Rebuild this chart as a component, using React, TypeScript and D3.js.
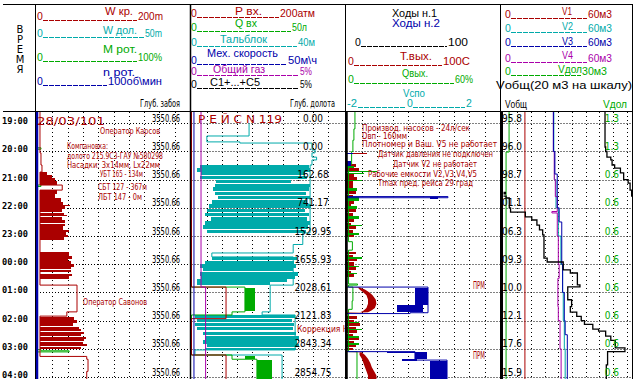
import React from "react";
import * as d3 from "d3";

type P = [number, number];
type B = [number, number, number, number];
type A3 = [number, number, number];

const RED = "#aa0000";
const TEAL = "#00aaaa";
const GREEN = "#00aa00";
const BLUE = "#0000aa";
const MAG = "#aa00aa";
const BLACK = "#000000";

// ---------- axis / labels ----------
const hourTicks = [0, 1, 2, 3, 4, 5, 6, 7, 8, 9];
const hourLabels = ["19:00", "20:00", "21:00", "22:00", "23:00", "00:00", "01:00", "02:00", "03:00", "04:00"];
const holeDepthLabels = ["3550.66", "3550.66", "3550.66", "3550.66", "3550.66", "3550.66", "3550.66", "3550.66", "3550.66", "3550.66"];
const bitDepthLabels = ["0.00", "0.00", "162.68", "741.17", "1529.95", "1655.93", "2028.61", "2121.83", "2843.34", "2854.75"];
const vTotalLabels = ["95.8", "96.0", "98.7", "101.1", "106.3", "109.3", "110.0", "112.1", "117.6", "115.9"];
const vDolLabels = ["1.3", "1.3", "0.6", "0.6", "0.6", "0.6", "0.6", "0.6", "0.6", "0.6"];

// ---------- track 1 : W кр, M рот, n рот ----------
const wkrLine: P[] = [[-0.4, 3.9], [1.05, 5.2], [1.48, 6.5], [1.73, 3.9], [2.19, 33], [2.37, 3.9], [5.52, 3.9], [5.74, 52.3], [6.69, 39], [6.84, 3.9], [8.27, 65], [8.37, 66.7], [8.8, 65], [9.1, 65]];
const wkrBands: B[] = [
  [1.73, 1.83, 3.9, 13], [1.83, 1.94, 3.9, 19.6], [1.94, 2.05, 3.9, 24], [2.05, 2.19, 3.9, 26],
  [2.37, 2.5, 3.9, 26], [2.5, 2.65, 3.9, 24], [2.65, 2.78, 3.9, 31], [2.78, 2.9, 3.9, 34],
  [2.9, 2.95, 3.9, 43], [2.95, 3.05, 3.9, 36], [3.05, 3.13, 3.9, 33], [3.17, 3.24, 3.9, 35],
  [3.24, 3.3, 3.9, 39], [3.34, 3.43, 3.9, 33], [3.43, 3.52, 3.9, 36], [3.56, 3.66, 3.9, 36],
  [3.66, 3.78, 3.9, 34], [3.78, 3.86, 3.9, 42], [3.86, 3.95, 3.9, 38], [3.95, 4.05, 3.9, 40], [4.05, 4.14, 3.9, 35],
  [4.57, 4.7, 3.9, 42], [4.7, 4.8, 3.9, 46], [4.8, 4.9, 3.9, 41], [4.9, 5.0, 3.9, 45], [5.0, 5.1, 3.9, 48],
  [5.1, 5.18, 3.9, 44], [5.22, 5.29, 3.9, 44], [5.33, 5.42, 3.9, 46], [5.42, 5.52, 3.9, 42],
  [6.86, 6.98, 3.9, 49], [6.98, 7.08, 3.9, 52], [7.08, 7.18, 3.9, 47], [7.22, 7.29, 3.9, 55], [7.29, 7.36, 3.9, 58],
  [7.4, 7.47, 3.9, 62], [7.47, 7.54, 3.9, 57], [7.58, 7.65, 3.9, 64], [7.65, 7.72, 3.9, 61],
  [7.75, 7.82, 3.9, 60], [7.82, 7.9, 3.9, 66], [7.92, 8.02, 3.9, 58],
];
const mrotLine: P[] = [[-0.4, 0], [0.87, 2.6], [0.92, 0], [2.19, 2.6], [2.24, 0], [8.03, 2.6], [8.07, 21], [8.11, 0], [9.1, 0]];
const nrotLine: P[] = [[-0.4, 0], [9.1, 0]];

// ---------- track 2 : Тальблок, Q вх, P вх, мех. скорость, газ ----------
const talLine: P[] = [[0, 15], [0.45, 4.0], [0.66, 12.6], [0.7, 31.4], [0.95, 32.2], [1.05, 31.4], [1.2, 32.6], [1.3, 31.4], [1.48, 30.9], [3.89, 29], [4.3, 26.5], [4.6, 5.3], [4.74, 26.5], [5.74, 20.5], [6.69, 18.4], [6.8, 27], [8.04, 0.9], [8.22, 23.6], [9.1, 23.6]];
const talBands: B[] = [
  [1.48, 1.6, 2.2, 30.5], [1.6, 1.72, 1.4, 31], [1.72, 1.85, 2.5, 29.5], [1.88, 1.98, 2.2, 30.2],
  [2.02, 2.12, 6.5, 26], [2.14, 2.25, 6.1, 31], [2.27, 2.4, 5.5, 30.5], [2.42, 2.55, 6.1, 29.8], [2.57, 2.7, 7, 30.9],
  [2.72, 2.85, 5.3, 30], [2.87, 3.0, 4.5, 31.2], [3.03, 3.15, 4.0, 29.5], [3.17, 3.3, 3.5, 30.5], [3.33, 3.45, 5, 30.2],
  [3.47, 3.6, 3.5, 31], [3.62, 3.75, 3.0, 30.4], [3.77, 3.89, 4.0, 29.8],
  [4.74, 4.85, 5.3, 27.5], [4.87, 4.98, 3.5, 26.8], [5.0, 5.12, 2.2, 27.3], [5.14, 5.25, 3.0, 26.5],
  [5.28, 5.4, 2.2, 27.8], [5.42, 5.52, 2.5, 27], [5.54, 5.62, 1.4, 25], [5.64, 5.74, 1.4, 20.5],
  [6.8, 6.92, 0.9, 27], [6.94, 7.05, 1.5, 26.3], [7.07, 7.18, 0.9, 26.8], [7.22, 7.35, 1.4, 26.5],
  [7.39, 7.52, 3, 27.3], [7.56, 7.68, 3.5, 28], [7.7, 7.82, 3, 27.5], [7.84, 7.94, 4, 28], [7.96, 8.04, 3.5, 27.2],
];
const qvxLine: P[] = [[-0.4, 0], [5.81, 17.4], [6.69, 13.2], [6.8, 0], [8.22, 13.2], [8.37, 21.3], [9.1, 21.3]];
const qvxBands: B[] = [[5.84, 6.66, 17.4, 20.7], [8.24, 8.36, 17.4, 20.7], [8.4, 9.1, 21.3, 26.2]];
const pvxLine: P[] = [[-0.4, 0], [5.81, 45], [6.93, 0], [8.22, 45], [9.1, 45]];
const mechLine: P[] = [[-0.4, 0.8], [9.1, 0.8]];
const gasLine: P[] = [[-0.4, 0.31], [5.81, 0.46], [9.1, 0.46]];

// ---------- track 3 : ходы, T вых, Q вых ----------
const hod1Line: P[] = [[-0.4, 0], [9.1, 0]];
const hod2Line: P[] = [[-0.4, 0], [2.6, 66.1], [2.64, 0], [5.81, 53.1], [6.72, 41.4], [6.75, 0], [8.1, 44.6], [8.4, 65.5], [9.1, 65.5]];
const hod2Bands: B[] = [[1.05, 1.08, 0, 4], [1.35, 1.5, 0, 3], [2.61, 2.7, 54.4, 59.6], [5.83, 6.45, 44.6, 53.1], [6.45, 6.7, 32.9, 50], [8.12, 8.15, 26.4, 44.6], [8.12, 8.36, 44.6, 52.4], [8.36, 8.42, 36.2, 46], [8.42, 9.1, 54.4, 65.5]];
const tvyxBands: B[] = [
  [1.04, 1.07, 0, 13.4], [1.45, 1.55, 0, 6], [1.6, 1.68, 0, 8], [1.8, 1.9, 0, 5], [1.92, 2.0, 0, 7], [2.05, 2.3, 0, 4],
  [2.4, 2.5, 0, 6], [2.53, 2.6, 0, 4], [2.75, 2.85, 0, 5], [2.88, 2.95, 0, 3], [3.05, 3.15, 0, 6], [3.18, 3.3, 0, 4],
  [3.4, 3.5, 0, 5], [3.52, 3.6, 0, 3], [3.65, 3.75, 0, 6], [3.78, 3.9, 0, 4], [3.95, 4.05, 0, 5],
  [4.55, 4.65, 0, 6], [4.68, 4.75, 0, 4], [4.8, 4.9, 0, 7], [4.93, 5.05, 0, 5], [5.1, 5.2, 0, 6], [5.23, 5.3, 0, 3], [5.35, 5.45, 0, 5],
  [6.85, 6.95, 0, 7], [6.98, 7.05, 0, 5], [7.1, 7.2, 0, 9], [7.23, 7.3, 0, 6], [7.35, 7.45, 0, 7], [7.48, 7.55, 0, 4],
  [7.6, 7.7, 0, 8], [7.73, 7.8, 0, 5], [7.85, 7.95, 0, 6], [7.97, 8.05, 0, 4],
];
const qvyxBands: B[] = [
  [1.5, 1.6, 0, 3], [1.68, 1.72, 0, 12], [1.75, 1.8, 0, 7], [2.0, 2.05, 0, 6], [2.3, 2.4, 0, 4], [2.6, 2.75, 0, 5],
  [2.95, 3.05, 0, 4], [3.3, 3.4, 0, 5], [3.6, 3.65, 0, 6], [3.9, 3.95, 0, 5], [4.75, 4.8, 0, 6], [5.05, 5.1, 0, 5],
  [5.3, 5.35, 0, 4], [7.05, 7.1, 0, 5], [7.3, 7.35, 0, 6], [7.55, 7.6, 0, 5], [7.8, 7.85, 0, 5],
];
const qvyxLine: P[] = [[-0.4, 3.3], [0.2, 2.9], [0.6, 2.5], [1.0, 2.0], [1.45, 0.8], [4.2, 2.3], [4.5, 0.8], [5.7, 4.3], [5.74, 0.8], [5.81, 2.5], [6.3, 2.2], [6.6, 0.8], [8.1, 4.1], [9.1, 4.1]];
const tvyxC1: A3[] = [[5.82, 0, 9], [5.835, 7.5, 9], [5.9, 8.5, 12], [6.0, 11, 15], [6.1, 13, 17], [6.25, 14, 19], [6.4, 14, 19.5], [6.55, 13, 18.5], [6.65, 11, 16], [6.7, 9, 14], [6.715, 0, 9], [6.73, 0, 1]];
const tvyxC2: A3[] = [[8.12, 0, 10], [8.135, 8.5, 10], [8.22, 8.5, 12], [8.35, 10, 14], [8.5, 11, 15.5], [8.65, 12, 16.5], [8.8, 13, 18], [8.95, 14, 19.5], [9.1, 14, 19.5]];

// ---------- track 4 : объёмы ----------
const v1Line: P[] = [[-0.4, 10], [9.1, 10]];
const v2Line: P[] = [[-0.4, 23.5], [1, 23.8], [2, 24.5], [3, 25.6], [4, 26.8], [5, 27.6], [6, 27.9], [7, 28.4], [8, 28.8], [9.1, 29.3]];
const v3Line: P[] = [[-0.4, 23.3], [1, 24.0], [1.8, 25.1], [3, 26.0], [3.5, 27.2], [5, 27.6], [6, 28.4], [7, 28.8], [7.5, 29.8], [9.1, 30.1]];
const v4Line: P[] = [[-0.4, 23.3], [1, 23.7], [2, 24.2], [2.6, 25.1], [3.13, 22.6], [3.18, 25.1], [4, 25.6], [5, 26.0], [5.5, 25.4], [6.5, 25.6], [7, 26.4], [8, 26.9], [9.1, 27.3]];
const vdolLine: P[] = [[-0.4, 1.3], [1.02, 0.6], [9.1, 0.6]];
const vTotLine: P[] = [[-0.4, 95.8], [0.84, 95.9], [1.0, 96.1], [1.2, 96.7], [1.3, 96.9], [1.48, 97.3], [1.59, 98.2], [1.76, 98.7], [2.0, 99.4], [2.12, 99.7], [2.37, 99.95], [2.45, 100.3], [2.5, 99.95], [2.58, 100.4], [2.65, 100.9], [3.0, 101.1], [3.15, 103.4], [3.32, 104.4], [3.43, 105.2], [3.61, 105.6], [3.78, 106.1], [3.96, 106.3], [4.78, 106.8], [4.92, 109.3], [5.2, 110.4], [5.31, 111.5], [5.73, 111.9], [5.8, 110.0], [6.26, 110.6], [6.5, 110.4], [6.7, 111.4], [6.85, 112.1], [7.0, 112.6], [7.13, 113.9], [7.3, 114.8], [7.37, 115.9], [7.55, 116.7], [7.7, 117.4], [7.97, 118.9], [8.1, 116.2], [8.57, 116.0], [9.1, 115.9]];

// ---------- layout ----------
const T1: [number, number] = [37, 190];
const T2: [number, number] = [191.5, 345];
const T3: [number, number] = [346.5, 500];
const T4: [number, number] = [503.5, 632];

const HF = "'Liberation Sans', Arial, sans-serif";
const NF = "'Liberation Sans Narrow', 'DejaVu Sans Condensed', 'Roboto Condensed', 'Liberation Sans', sans-serif";

function Txt(props: any) {
  const { x, y, w, color = BLACK, size = 11, anchor = "start", font = HF, weight = "normal", children } = props;
  const extra: any = {};
  if (w) { extra.textLength = w; extra.lengthAdjust = "spacingAndGlyphs"; }
  return (
    <text x={x} y={y} fill={color} fontSize={size} fontFamily={font} fontWeight={weight} textAnchor={anchor} {...extra}>
      {children}
    </text>
  );
}

function ScaleRow(props: any) {
  const { x0, y, lx0, lx1, max, mx, mw, color, min = "0", minW } = props;
  return (
    <g>
      <Txt x={x0} y={y} color={color} size={10.5} w={minW}>{min}</Txt>
      <line x1={lx0} x2={lx1} y1={y + 0.5} y2={y + 0.5} stroke={color} strokeWidth={1} strokeDasharray="5 1" />
      <Txt x={mx} y={y} color={color} size={10.5} w={mw}>{max}</Txt>
    </g>
  );
}

export default function App() {
  const y = d3.scaleLinear().domain([0, 9]).range([123.3, 377]);

  const x1w = d3.scaleLinear().domain([0, 200]).range(T1);
  const x1m = d3.scaleLinear().domain([0, 100]).range(T1);
  const x2p = d3.scaleLinear().domain([0, 200]).range(T2);
  const x2q = d3.scaleLinear().domain([0, 50]).range(T2);
  const x2t = d3.scaleLinear().domain([0, 40]).range(T2);
  const x2v = d3.scaleLinear().domain([0, 50]).range(T2);
  const x2g = d3.scaleLinear().domain([0, 5]).range(T2);
  const x3h = d3.scaleLinear().domain([0, 100]).range(T3);
  const x3t = d3.scaleLinear().domain([0, 100]).range(T3);
  const x3q = d3.scaleLinear().domain([0, 60]).range(T3);
  const x4v = d3.scaleLinear().domain([0, 60]).range(T4);
  const x4d = d3.scaleLinear().domain([0, 30]).range(T4);
  const x4tot = d3.scaleLinear().domain([0, 20]).range(T4);

  const step = (data: P[], xs: any) =>
    d3.line<P>().x((d) => xs(d[1])).y((d) => y(d[0])).curve(d3.curveStepBefore)(data) as string;
  const area3 = (data: A3[], xs: any) =>
    d3.area<A3>().y((d) => y(d[0])).x0((d) => xs(d[1])).x1((d) => xs(d[2]))(data) as string;
  const rects = (bands: B[], xs: any, color: string, key: string) =>
    bands.map((b, i) => (
      <rect key={key + i} x={xs(b[2])} y={y(b[0])} width={Math.max(1, xs(b[3]) - xs(b[2]))}
        height={Math.max(1, y(b[1]) - y(b[0]))} fill={color} shapeRendering="crispEdges" />
    ));

  const wrapPath = (data: P[], xs: any, span: number) => {
    const p = d3.path();
    const md = (v: number) => v - Math.floor(v / span) * span;
    data.forEach(([t, v], i) => {
      const yy = y(t);
      if (i === 0) { p.moveTo(xs(md(v)), yy); return; }
      const vp = data[i - 1][1];
      p.lineTo(xs(md(vp)), yy);
      const kp = Math.floor(vp / span), k = Math.floor(v / span);
      if (k === kp) p.lineTo(xs(md(v)), yy);
      else if (k > kp) { p.lineTo(xs(span), yy); p.moveTo(xs(0), yy); p.lineTo(xs(md(v)), yy); }
      else { p.lineTo(xs(0), yy); p.moveTo(xs(span), yy); p.lineTo(xs(md(v)), yy); }
    });
    return p.toString();
  };

  const tracks: { r: [number, number]; g: number }[] = [
    { r: T1, g: 15.3 }, { r: T2, g: 15.2 }, { r: T3, g: 15.35 }, { r: T4, g: 13.7 },
  ];

  const grid = tracks.map((tr, ti) => {
    const gx = d3.scaleLinear().domain([0, 10]).range([tr.r[0], tr.r[0] + tr.g * 10]);
    return (
      <g key={"g" + ti}>
        {d3.range(1, 10).map((k) => gx(k)).filter((xx) => xx < tr.r[1] - 2).map((xx, k) => (
          <line key={"v" + k} x1={Math.round(xx) + 0.5} x2={Math.round(xx) + 0.5} y1={112} y2={379} stroke={BLACK} strokeDasharray="1 3" />
        ))}
        {hourTicks.map((h) => (
          <line key={"h" + h} x1={tr.r[0]} x2={tr.r[1]} y1={Math.round(y(h)) + 0.5} y2={Math.round(y(h)) + 0.5} stroke={BLACK} strokeDasharray="1 2" />
        ))}
      </g>
    );
  });

  const ln = (d: string, color: string, w = 1, key?: string) => (
    <path key={key} d={d} fill="none" stroke={color} strokeWidth={w} />
  );

  return (
    <div style={{ position: "absolute", left: 0, top: 0 }}>
      <svg width={634} height={379} viewBox="0 0 634 379" style={{ display: "block", background: "#fff" }}>
        <defs>
          <clipPath id="c1"><rect x={35.5} y={112} width={154.5} height={267} /></clipPath>
          <clipPath id="c2"><rect x={190.5} y={112} width={154.5} height={267} /></clipPath>
          <clipPath id="c3"><rect x={345.5} y={112} width={154.5} height={267} /></clipPath>
          <clipPath id="c4"><rect x={500.5} y={112} width={131.5} height={267} /></clipPath>
        </defs>
        <rect x={0} y={0} width={634} height={379} fill="#fff" />

        {/* grid */}
        <g clipPath="url(#c1)">{grid[0]}</g>
        <g clipPath="url(#c2)">{grid[1]}</g>
        <g clipPath="url(#c3)">{grid[2]}</g>
        <g clipPath="url(#c4)">{grid[3]}</g>

        {/* ---------- track 1 ---------- */}
        <g clipPath="url(#c1)">
          {ln(step(mrotLine, x1m), GREEN, 1)}
          {rects(wkrBands, x1w, RED, "wk")}
          {ln(step(wkrLine, x1w), RED, 1)}
          {ln(step(nrotLine, x1m), BLUE, 2.5)}
          <Txt x={37} y={124.5} color={RED} size={11} w={68} font={NF}>28/03/101</Txt>
          <Txt x={100} y={133.5} color={RED} size={9} w={60} font={NF}>Оператор Карсов</Txt>
          <Txt x={67} y={149} color={RED} size={9} w={41} font={NF}>Компановка:</Txt>
          <Txt x={67} y={159} color={RED} size={9} w={96} font={NF}>долото 215.9C3-ГАУ №580298</Txt>
          <Txt x={67} y={167.5} color={RED} size={9} w={93} font={NF}>Насадки: 3x14мм, Lx22мм</Txt>
          <Txt x={100} y={176.5} color={RED} size={9} w={43} font={NF}>УБТ 165 - 134м</Txt>
          <Txt x={98} y={189.5} color={RED} size={9} w={49} font={NF}>СБТ 127 - 367м</Txt>
          <Txt x={98} y={199.5} color={RED} size={9} w={44} font={NF}>ЛБТ 147 - 0м</Txt>
          <Txt x={83} y={304.5} color={RED} size={9} w={64} font={NF}>Оператор Савонов</Txt>
          {hourTicks.map((h, i) => (
            <Txt key={"hd" + i} x={152} y={y(h) - 1.5} size={10} w={28} font={NF}>{holeDepthLabels[i]}</Txt>
          ))}
        </g>

        {/* ---------- track 2 ---------- */}
        <g clipPath="url(#c2)">
          {rects(talBands, x2t, TEAL, "tb")}
          {ln(step(talLine, x2t), TEAL, 1)}
          {rects(qvxBands, x2q, GREEN, "qb")}
          {ln(step(qvxLine, x2q), GREEN, 1)}
          {ln(step(pvxLine, x2p), RED, 1)}
          {ln(step(mechLine, x2v), BLUE, 1)}
          {ln(step(gasLine, x2g), MAG, 1)}
          <Txt x={198} y={123} color={RED} size={11} w={84} font={NF}>Р Е Й С  N 119</Txt>
          <Txt x={297} y={332} color={RED} size={9} w={56} font={NF}>Коррекция Нк</Txt>
          {hourTicks.map((h, i) => (
            <Txt key={"bd" + i} x={313} y={y(h) - 1.5} size={10} anchor="middle" font={NF}>{bitDepthLabels[i]}</Txt>
          ))}
        </g>

        {/* ---------- track 3 ---------- */}
        <g clipPath="url(#c3)">
          {rects(tvyxBands, x3t, RED, "tv")}
          {rects(qvyxBands, x3q, GREEN, "qv")}
          {ln(step(qvyxLine, x3q), GREEN, 1)}
          <path d={area3(tvyxC1, x3t)} fill={RED} />
          <path d={area3(tvyxC2, x3t)} fill={RED} />
          {rects(hod2Bands, x3h, BLUE, "hb")}
          {ln(step(hod2Line, x3h), BLUE, 1)}
          {ln(step(hod1Line, x3h), BLACK, 2.5)}
          <Txt x={362} y={131} color={RED} size={9} w={108} font={NF}>Производ. насосов - 24л/сек</Txt>
          <Txt x={362} y={138.5} color={RED} size={9} w={45} font={NF}>Dвп - 160мм</Txt>
          <Txt x={362} y={147} color={RED} size={8.5} w={135} font={NF}>Плотномер и Ваш. V5 не работает</Txt>
          <Txt x={378} y={157} color={RED} size={8.5} w={115} font={NF}>Датчик давления не подключен</Txt>
          <Txt x={393} y={166.5} color={RED} size={9} w={84} font={NF}>Датчик V2 не работает</Txt>
          <Txt x={368} y={176.5} color={RED} size={8.5} w={109} font={NF}>Рабочие емкости V2,V3,V4,V5</Txt>
          <Txt x={378} y={185.5} color={RED} size={9} w={95} font={NF}>Тmax пред. рейса 29 град</Txt>
          <Txt x={473} y={288.5} color={RED} size={10} w={12} font={NF}>ПРМ</Txt>
          <Txt x={473} y={358.5} color={RED} size={10} w={12} font={NF}>ПРМ</Txt>
        </g>

        {/* ---------- track 4 ---------- */}
        <g clipPath="url(#c4)">
          {ln(step(vdolLine, x4d), GREEN, 1)}
          {ln(step(v1Line, x4v), RED, 1)}
          {ln(step(v2Line, x4v), TEAL, 1)}
          {ln(step(v4Line, x4v), MAG, 1)}
          {ln(step(v3Line, x4v), BLUE, 1)}
          {ln(wrapPath(vTotLine, x4tot, 20), BLACK, 1.3)}
          {hourTicks.map((h, i) => (
            <Txt key={"vt" + i} x={522} y={y(h) - 1.5} size={10} anchor="end" font={NF}>{vTotalLabels[i]}</Txt>
          ))}
          {hourTicks.map((h, i) => (
            <Txt key={"vd" + i} x={619} y={y(h) - 1.5} size={10} anchor="end" color={GREEN} font={NF}>{vDolLabels[i]}</Txt>
          ))}
        </g>

        {/* ---------- time column ---------- */}
        {["В", "Р", "Е", "М", "Я"].map((c, i) => (
          <Txt key={"vr" + i} x={20} y={33 + i * 10} size={10} anchor="middle" font="'DejaVu Sans', sans-serif">{c}</Txt>
        ))}
        {hourTicks.map((h, i) => (
          <Txt key={"hl" + i} x={2} y={y(h) + 1} size={9} w={26} weight="bold" font="'DejaVu Sans Mono', monospace">{hourLabels[i]}</Txt>
        ))}

        {/* ---------- header track 1 ---------- */}
        <Txt x={105} y={15} color={RED} w={28}>W кр.</Txt>
        <ScaleRow x0={37} y={20} lx0={43} lx1={137} mx={138} mw={25} max="200m" color={RED} />
        <Txt x={103} y={34} color={TEAL} w={34}>W дол.</Txt>
        <ScaleRow x0={37} y={37} lx0={43} lx1={144} mx={145} mw={17} max="50m" color={TEAL} />
        <Txt x={103} y={53} color={GREEN} w={34}>М рот.</Txt>
        <ScaleRow x0={37} y={61} lx0={43} lx1={137} mx={138} mw={24} max="100%" color={GREEN} />
        <Txt x={103} y={76} color={BLUE} w={32}>n рот.</Txt>
        <ScaleRow x0={37} y={85} lx0={43} lx1={107} mx={108} mw={54} max="100об\мин" color={BLUE} />
        <Txt x={140} y={107} size={10} w={40} font={NF}>Глуб. забоя</Txt>

        {/* ---------- header track 2 ---------- */}
        <Txt x={235} y={15} color={RED} w={27}>Р вх.</Txt>
        <ScaleRow x0={191} y={17} lx0={197} lx1={279} mx={280} mw={35} max="200атм" color={RED} />
        <Txt x={235} y={27} color={GREEN} w={22}>Q вх</Txt>
        <ScaleRow x0={191} y={31} lx0={197} lx1={291} mx={292} mw={15} max="50л" color={GREEN} />
        <Txt x={220} y={43} color={TEAL} w={47}>Тальблок</Txt>
        <ScaleRow x0={191} y={46} lx0={197} lx1={297} mx={298} mw={17} max="40м" color={TEAL} />
        <Txt x={207} y={57} color={BLUE} w={71}>Мех. скорость</Txt>
        <ScaleRow x0={191} y={64} lx0={197} lx1={287} mx={288} mw={29} max="50м\ч" color={BLUE} />
        <Txt x={213} y={72.5} color={MAG} w={52}>Общий газ</Txt>
        <ScaleRow x0={191} y={75} lx0={197} lx1={299} mx={300} mw={12} max="5%" color={MAG} />
        <Txt x={210} y={86} color={BLACK} w={50}>C1+...+C5</Txt>
        <ScaleRow x0={191} y={88} lx0={197} lx1={299} mx={300} mw={12} max="5%" color={BLACK} />
        <Txt x={290} y={107} size={10} w={45} font={NF}>Глуб. долота</Txt>

        {/* ---------- header track 3 ---------- */}
        <Txt x={392} y={17} color={BLACK} w={45}>Ходы н.1</Txt>
        <Txt x={392} y={27} color={BLUE} w={48}>Ходы н.2</Txt>
        <ScaleRow x0={355} y={46} lx0={361} lx1={447} mx={448} mw={20} max="100" color={BLACK} />
        <Txt x={400} y={60} color={RED} w={32}>Т.вых.</Txt>
        <ScaleRow x0={348} y={65} lx0={354} lx1={442} mx={443} mw={27} max="100С" color={RED} />
        <Txt x={402} y={77} color={GREEN} w={26}>Qвых.</Txt>
        <ScaleRow x0={348} y={83} lx0={354} lx1={454} mx={455} mw={18} max="60%" color={GREEN} />
        <Txt x={403} y={97} color={TEAL} w={22}>Vспо</Txt>
        <ScaleRow x0={347} minW={10} min="-2" y={107} lx0={358} lx1={406} mx={407} max="0" color={TEAL} />
        <line x1={413} x2={465} y1={107.5} y2={107.5} stroke={TEAL} strokeDasharray="5 1" />
        <Txt x={466} y={107} color={TEAL} size={10.5}>2</Txt>

        {/* ---------- header track 4 ---------- */}
        <Txt x={562} y={15} color={RED} w={10}>V1</Txt>
        <ScaleRow x0={505} y={18} lx0={511} lx1={587} mx={588} mw={24} max="60м3" color={RED} />
        <Txt x={562} y={30} color={TEAL} w={11}>V2</Txt>
        <ScaleRow x0={505} y={32} lx0={511} lx1={587} mx={588} mw={24} max="60м3" color={TEAL} />
        <Txt x={562} y={45} color={BLUE} w={11}>V3</Txt>
        <ScaleRow x0={505} y={46} lx0={511} lx1={587} mx={588} mw={24} max="60м3" color={BLUE} />
        <Txt x={562} y={59} color={MAG} w={11}>V4</Txt>
        <ScaleRow x0={505} y={62} lx0={511} lx1={587} mx={588} mw={24} max="60м3" color={MAG} />
        <Txt x={558} y={73} color={GREEN} w={24}>Vдол</Txt>
        <ScaleRow x0={505} y={75} lx0={511} lx1={581} mx={582} mw={25} max="30м3" color={GREEN} />
        <Txt x={496} y={89} color={BLACK} w={136}>Vобщ(20 м3 на шкалу)</Txt>
        <Txt x={505} y={108} color={BLACK} w={22}>Vобщ</Txt>
        <Txt x={603} y={108} color={GREEN} w={24}>Vдол</Txt>

        {/* ---------- frame ---------- */}
        <line x1={3} x2={633} y1={4.5} y2={4.5} stroke={BLACK} />
        <line x1={3} x2={633} y1={111.5} y2={111.5} stroke={BLACK} />
        <line x1={35.5} x2={35.5} y1={4} y2={379} stroke={BLACK} />
        <line x1={190.5} x2={190.5} y1={4} y2={379} stroke={BLACK} strokeWidth={1.5} />
        <line x1={345.5} x2={345.5} y1={4} y2={379} stroke={BLACK} />
        <line x1={500.5} x2={500.5} y1={4} y2={112} stroke={BLACK} />
        <line x1={501.5} x2={501.5} y1={112} y2={379} stroke={BLACK} strokeWidth={3} />
        <line x1={632.5} x2={632.5} y1={4} y2={379} stroke={BLACK} />
      </svg>
    </div>
  );
}
